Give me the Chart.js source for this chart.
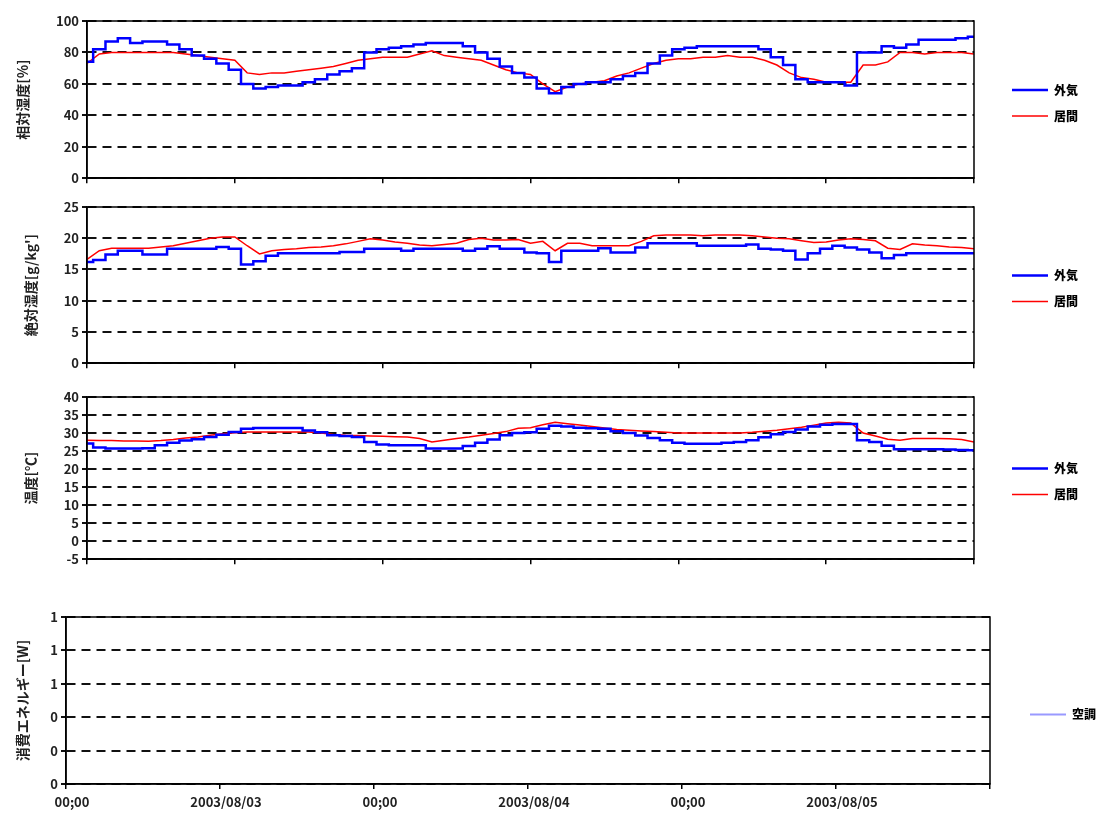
<!DOCTYPE html>
<html>
<head>
<meta charset="utf-8">
<script src="https://cdn.jsdelivr.net/npm/chart.js@4/dist/chart.umd.min.js"></script>
<style>
  body { margin: 0; background: #fff; width: 1109px; height: 817px; overflow: hidden; position: relative; }
  .panel { position: absolute; left: 0; width: 1109px; }
</style>
</head>
<body>
<div class="panel" style="top:10px;height:179px"><canvas id="rhChart"></canvas></div>
<div class="panel" style="top:196px;height:178px"><canvas id="ahChart"></canvas></div>
<div class="panel" style="top:386px;height:184px"><canvas id="tempChart"></canvas></div>
<div class="panel" style="top:606px;height:211px"><canvas id="energyChart"></canvas></div>
<script>
// hourly readings, 2003/08/02 12:00 -> 2003/08/05 12:00
const seriesNames = ["外気", "居間"];

const rhOutside = [74, 82, 87, 89, 86, 87, 87, 85, 82, 78, 76, 73, 69, 60, 57, 58, 59, 59, 61, 63, 66, 68, 70, 80,
  82, 83, 84, 85, 86, 86, 86, 84, 80, 76, 71, 67, 64, 57, 54, 58, 60, 61, 61, 63, 65, 67, 73, 78,
  82, 83, 84, 84, 84, 84, 84, 82, 77, 72, 63, 61, 61, 61, 59, 80, 80, 84, 83, 85, 88, 88, 88, 89, 90];
const rhRoom = [73, 79, 80, 80, 80, 80, 80, 80, 79, 78, 77, 76, 75, 67, 66, 67, 67, 68, 69, 70, 71, 73, 75, 76,
  77, 77, 77, 79, 81, 78, 77, 76, 75, 72, 69, 67, 66, 60, 55, 58, 60, 61, 62, 65, 67, 70, 73, 75,
  76, 76, 77, 77, 78, 77, 77, 75, 72, 67, 64, 63, 61, 61, 61, 72, 72, 74, 80, 80, 79, 80, 80, 80, 79];

const ahOutside = [16.2, 16.5, 17.4, 18, 18, 17.4, 17.4, 18.3, 18.3, 18.3, 18.3, 18.6, 18.3, 15.8, 16.3, 17.2, 17.6, 17.6, 17.6, 17.6, 17.6, 17.8, 17.8, 18.3,
  18.3, 18.3, 18, 18.3, 18.3, 18.3, 18.3, 18, 18.3, 18.7, 18.3, 18.3, 17.7, 17.6, 16.2, 18, 18, 18, 18.4, 17.7, 17.7, 18.5, 19.2, 19.2,
  19.2, 19.2, 18.8, 18.8, 18.8, 18.8, 19, 18.3, 18.2, 18, 16.6, 17.6, 18.3, 18.8, 18.5, 18.2, 17.7, 16.8, 17.3, 17.6, 17.6, 17.6, 17.6, 17.6, 17.6];
const ahRoom = [16.6, 18, 18.4, 18.4, 18.4, 18.4, 18.6, 18.8, 19.2, 19.6, 20, 20.2, 20.2, 18.8, 17.5, 18, 18.2, 18.3, 18.5, 18.6, 18.8, 19.1, 19.5, 19.9,
  19.7, 19.4, 19.2, 18.9, 18.8, 19, 19.2, 19.8, 20, 19.7, 19.7, 19.8, 19.2, 19.5, 18, 19.2, 19.2, 18.8, 18.8, 18.8, 18.8, 19.5, 20.4, 20.5,
  20.5, 20.5, 20.4, 20.5, 20.5, 20.5, 20.4, 20.2, 20, 19.9, 19.6, 19.3, 19.4, 19.7, 19.9, 19.8, 19.6, 18.4, 18.2, 19.1, 18.9, 18.8, 18.6, 18.5, 18.3];

const tempOutside = [27.1, 26, 25.7, 25.7, 25.7, 25.8, 26.6, 27.3, 27.9, 28.3, 28.9, 29.5, 30.3, 31.2, 31.4, 31.4, 31.4, 31.4, 30.7, 30.2, 29.4, 29.2, 28.9, 27.5,
  26.8, 26.6, 26.6, 26.6, 25.7, 25.7, 25.7, 26.4, 27.3, 28.2, 29.4, 30, 30.2, 31.2, 32, 31.8, 31.5, 31.3, 31.2, 30.5, 30, 29.3, 28.6, 28,
  27.3, 27, 27, 27, 27.3, 27.5, 28, 28.8, 29.7, 30.3, 31, 31.8, 32.3, 32.5, 32.5, 28, 27.5, 26.5, 25.5, 25.5, 25.5, 25.5, 25.4, 25.3, 25.2];
const tempRoom = [28, 27.9, 27.9, 27.8, 27.8, 27.7, 27.9, 28.2, 28.6, 28.9, 29.4, 29.8, 30.1, 30.3, 30.3, 30.3, 30.3, 30.3, 30.3, 30, 29.6, 29.4, 29.3, 29.2,
  29.1, 29, 28.9, 28.5, 27.5, 28, 28.5, 28.9, 29.4, 29.9, 30.4, 31.3, 31.5, 32.3, 33, 32.6, 32.2, 31.8, 31.4, 31, 30.8, 30.6, 30.4, 30.2,
  30, 30, 30, 30, 30, 30, 30.2, 30.5, 30.8, 31.2, 31.6, 32.2, 32.8, 33, 32.8, 30, 29.2, 28.3, 28, 28.5, 28.5, 28.5, 28.4, 28.2, 27.5];

const energyAC = []; // 空調: no readings
const xTickLabels = ["00;00", "2003/08/03", "00;00", "2003/08/04", "00;00", "2003/08/05", ""];

Chart.defaults.font.family = "'Noto Sans CJK JP', 'DejaVu Sans', sans-serif";
Chart.defaults.font.size = 12;
Chart.defaults.color = "#111";

const toPoints = arr => arr.map((v, i) => ({ x: i, y: v }));

// box round the plot area
const framePlugin = {
  id: "frame",
  afterDraw(chart) {
    const a = chart.chartArea;
    const ctx = chart.ctx;
    ctx.save();
    ctx.strokeStyle = "#000";
    ctx.lineWidth = 1.5;
    ctx.strokeRect(a.left, a.top, a.right - a.left, a.bottom - a.top);
    ctx.restore();
  }
};

const makePanel = (canvasId, cfg) => {
  new Chart(document.getElementById(canvasId), {
    type: "line",
    data: { datasets: cfg.datasets },
    plugins: [framePlugin],
    options: {
      responsive: true,
      maintainAspectRatio: false,
      animation: false,
      layout: { padding: { top: 11, bottom: cfg.padBottom, left: 0, right: cfg.padRight } },
      elements: { point: { radius: 0 } },
      plugins: {
        tooltip: { enabled: false },
        legend: {
          position: "right",
          labels: {
            usePointStyle: true,
            pointStyleWidth: 36,
            padding: cfg.legendPad,
            color: "#000",
            font: { size: 12, weight: 900 }
          }
        }
      },
      scales: {
        x: {
          type: "linear",
          min: 0,
          max: 72,
          ticks: {
            stepSize: 12,
            display: cfg.showX,
            padding: 5,
            maxRotation: 0,
            autoSkip: false,
            labelOffset: 6,
            color: "#222",
            font: { size: 13, weight: "bold" },
            callback: v => xTickLabels[v / 12]
          },
          grid: { drawOnChartArea: false, drawTicks: true, tickLength: 5, color: "#000", lineWidth: 1.5 },
          border: { color: "#000", width: 1.5 },
          afterFit: s => { s.height = cfg.xHeight; }
        },
        y: {
          min: cfg.yMin,
          max: cfg.yMax,
          ticks: {
            stepSize: cfg.yStep, padding: 3, color: "#222", autoSkip: false,
            font: { size: 13, weight: "bold" },
            callback: cfg.yFormat || (v => v)
          },
          grid: { color: "#111", lineWidth: 2, tickLength: 5 },
          border: { color: "#000", width: 1.5, dash: [9, 6] },
          title: {
            display: true, text: cfg.yTitle, color: "#222",
            padding: { top: cfg.titlePad, bottom: 0 }, font: { size: 14, weight: "bold" }
          },
          afterFit: s => { s.width = cfg.yWidth; }
        },
        yRight: {
          position: "right",
          display: true,
          grid: { display: false },
          ticks: { display: false },
          border: { display: false },
          afterFit: s => { s.width = cfg.gapRight; }
        }
      }
    }
  });
};

const outsideLine = (data) => ({
  label: seriesNames[0], data: toPoints(data), borderColor: "#0000ff", backgroundColor: "#0000ff",
  borderWidth: 2.5, stepped: "middle", pointStyle: "line"
});
const roomLine = (data) => ({
  label: seriesNames[1], data: toPoints(data), borderColor: "#ff0000", backgroundColor: "#ff0000",
  borderWidth: 1.5, pointStyle: "line"
});

const topPanel = {
  yWidth: 87, gapRight: 24, padRight: 21, legendPad: 14, showX: false, xHeight: 6, padBottom: 4
};

makePanel("rhChart", Object.assign({}, topPanel, {
  datasets: [outsideLine(rhOutside), roomLine(rhRoom)],
  yMin: 0, yMax: 100, yStep: 20, yTitle: "相対湿度[%]", titlePad: 14
}));

makePanel("ahChart", Object.assign({}, topPanel, {
  datasets: [outsideLine(ahOutside), roomLine(ahRoom)],
  yMin: 0, yMax: 25, yStep: 5, yTitle: "絶対湿度[g/kg']", titlePad: 22
}));

makePanel("tempChart", Object.assign({}, topPanel, {
  datasets: [outsideLine(tempOutside), roomLine(tempRoom)],
  yMin: -5, yMax: 40, yStep: 5, yTitle: "温度[℃]", titlePad: 22
}));

makePanel("energyChart", {
  datasets: [{
    label: "空調", data: toPoints(energyAC), borderColor: "#9999ff", backgroundColor: "#9999ff",
    borderWidth: 2, pointStyle: "line"
  }],
  yWidth: 66, gapRight: 30, padRight: 3, legendPad: 10, showX: true, xHeight: 28, padBottom: 5,
  yMin: 0, yMax: 1, yStep: 0.2, yTitle: "消費エネルギー[W]", titlePad: 14,
  yFormat: v => Math.round(v)
});
</script>
</body>
</html>
